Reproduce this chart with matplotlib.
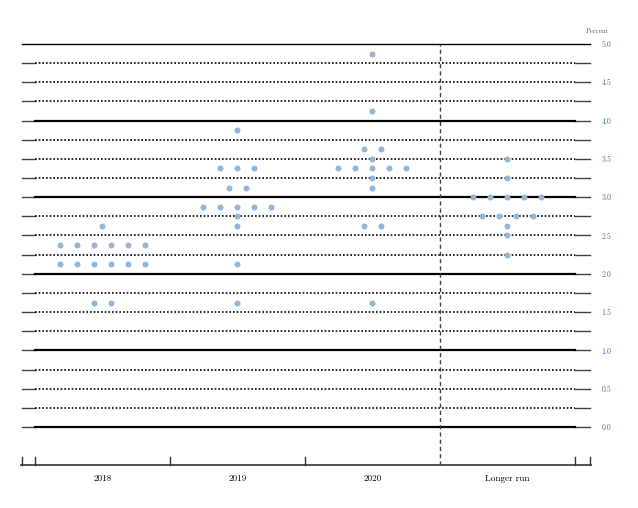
import matplotlib
matplotlib.use("Agg")
import matplotlib.pyplot as plt

# participants' projections of the midpoint of the target range
periods = ['2018', '2019', '2020', 'Longer run']

rate_2018 = [2.625, 2.375, 2.125, 1.625]
count_2018 = [1, 6, 6, 2]

rate_2019 = [3.875, 3.375, 3.125, 2.875, 2.75, 2.625, 2.125, 1.625]
count_2019 = [1, 3, 2, 5, 1, 1, 1, 1]

rate_2020 = [4.875, 4.125, 3.625, 3.5, 3.375, 3.25, 3.125, 2.625, 1.625]
count_2020 = [1, 1, 2, 1, 5, 1, 1, 2, 1]

rate_lr = [3.5, 3.25, 3.0, 2.75, 2.625, 2.5, 2.25]
count_lr = [1, 1, 5, 4, 1, 1, 1]

yticks = [0.0, 0.5, 1.0, 1.5, 2.0, 2.5, 3.0, 3.5, 4.0, 4.5, 5.0]

dot_color = '#94b4da'
label_blue = '#3f6fb5'
font = 'cmr10'

fig = plt.figure(figsize=(6.38, 5.08), dpi=100)
ax = fig.add_axes([20 / 638, 41 / 508, 572 / 638, 427 / 508])
ax.set_xlim(-0.611, 3.626)
ax.set_ylim(-0.522, 5.052)

x_in0, x_in1 = -0.5, 3.5          # inner span of the grid
x_out0, x_out1 = -0.596, 3.611    # outer span with the short end segments

# grid lines every 0.25
for i in range(21):
    y = i * 0.25
    if i == 20:
        ax.plot([x_out0, x_out1], [y, y], color='black', lw=1.0, zorder=1)
        continue
    ax.plot([x_out0, x_in0], [y, y], color='#444444', lw=1.0, zorder=1)
    ax.plot([x_in1, x_out1], [y, y], color='#444444', lw=1.0, zorder=1)
    if i % 4 == 0:
        ax.plot([x_in0, x_in1], [y, y], color='black', lw=1.6, zorder=1)
    else:
        ax.plot([x_in0, x_in1], [y, y], color='black', lw=1.2,
                linestyle=(0, (1, 1.2)), zorder=1)

# bottom axis with boundary ticks
y_base = -0.496
ax.plot([x_out0 - 0.015, x_out1 + 0.01], [y_base, y_base], color='#444444', lw=1.3, zorder=1)
for xt in [x_out0, -0.5, 0.5, 1.5, 3.5, x_out1]:
    ax.plot([xt, xt], [y_base, y_base + 0.11], color='#333333', lw=1.0, zorder=1)

# separator before the longer run
ax.plot([2.5, 2.5], [y_base, 5.0], color='#444444', lw=1.0,
        linestyle=(0, (3, 2.2)), zorder=1)

# dots
spacing = 17 / 135
columns = [(rate_2018, count_2018), (rate_2019, count_2019),
           (rate_2020, count_2020), (rate_lr, count_lr)]
for col, (rates, counts) in enumerate(columns):
    for r, n in zip(rates, counts):
        xs = [col + (k - (n - 1) / 2) * spacing for k in range(n)]
        ax.plot(xs, [r] * n, 'o', color=dot_color, markersize=4.3,
                markeredgewidth=0, zorder=3)

for s in ax.spines.values():
    s.set_visible(False)

ax.set_yticks(yticks)
ax.set_yticklabels(['%.1f' % v for v in yticks], fontfamily=font)
ax.tick_params(axis='y', left=False, right=False, labelleft=False,
               labelright=True, labelsize=5.6, labelcolor=label_blue, pad=3.5)

ax.set_xticks(range(len(periods)))
ax.set_xticklabels(periods, fontfamily=font)
ax.tick_params(axis='x', bottom=False, labelsize=6.6, pad=1.8)

ax.text(3.58, 5.17, 'Percent', fontfamily=font, fontsize=5, color='#6b4f5a',
        ha='left', va='center')

fig.savefig('out.png', dpi=100)
